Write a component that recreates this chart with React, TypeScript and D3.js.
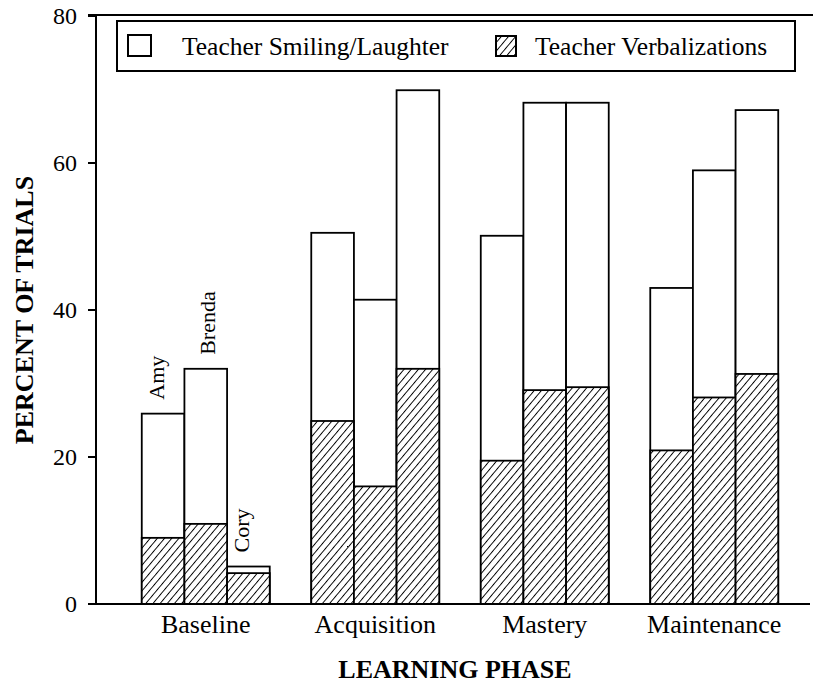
import * as d3 from 'd3'

const phases = ['Baseline', 'Acquisition', 'Mastery', 'Maintenance']
const students = ['Amy', 'Brenda', 'Cory']

// white bars (drawn behind), read per phase, per student
const smiling = [
    [25.9, 32.0, 5.1],
    [50.5, 41.4, 69.9],
    [50.1, 68.2, 68.2],
    [43.0, 59.0, 67.2]
]
// hatched bars (drawn in front)
const verbal = [
    [9.0, 10.9, 4.2],
    [24.9, 16.0, 32.0],
    [19.5, 29.1, 29.5],
    [20.9, 28.1, 31.3]
]
const yTicks = [0, 20, 40, 60, 80]

const W = 813
const H = 687
const font = '"Liberation Serif", "Times New Roman", serif'

export default function App() {
    const y = d3.scaleLinear().domain([0, 80]).range([604, 16])
    const x = d3
        .scaleBand()
        .domain(phases)
        .range([96, 824])
        .paddingInner(0.245)
        .paddingOuter(0.27)
    const xs = d3.scaleBand().domain(students).range([0, x.bandwidth()])

    return (
        <>
            <style>{`body{margin:0}`}</style>
            <svg width={W} height={H} style={{ display: 'block', background: '#fff' }} fontFamily={font}>
                <defs>
                    <pattern id="hatch" width="5.5" height="6" patternUnits="userSpaceOnUse" patternTransform="rotate(40)">
                        <rect width="5.5" height="6" fill="#fff" />
                        <line x1="0" y1="0" x2="0" y2="6" stroke="#000" strokeWidth="1.9" />
                    </pattern>
                </defs>

                {/* bars */}
                {phases.map((p, i) => (
                    <g key={p} transform={`translate(${x(p)},0)`}>
                        {students.map((s, j) => (
                            <rect
                                key={'s' + s}
                                x={xs(s)}
                                y={y(smiling[i][j])}
                                width={xs.bandwidth()}
                                height={y(0) - y(smiling[i][j])}
                                fill="#fff"
                                stroke="#000"
                                strokeWidth="1.8"
                            />
                        ))}
                        {students.map((s, j) => (
                            <rect
                                key={'v' + s}
                                x={xs(s)}
                                y={y(verbal[i][j])}
                                width={xs.bandwidth()}
                                height={y(0) - y(verbal[i][j])}
                                fill="url(#hatch)"
                                stroke="#000"
                                strokeWidth="1.8"
                            />
                        ))}
                        {i === 0 &&
                            students.map((s, j) => {
                                const cx = xs(s) + xs.bandwidth() / 2 + (s === 'Brenda' ? 9 : 1)
                                const cy = y(smiling[i][j]) - 14
                                return (
                                    <text
                                        key={'l' + s}
                                        transform={`translate(${cx},${cy}) rotate(-90)`}
                                        fontSize="22"
                                    >
                                        {s}
                                    </text>
                                )
                            })}
                        <text
                            x={x.bandwidth() / 2}
                            y={633}
                            textAnchor="middle"
                            fontSize="26"
                        >
                            {p}
                        </text>
                    </g>
                ))}

                {/* axes */}
                <line x1={88} x2={813} y1={15} y2={15} stroke="#000" strokeWidth="2" />
                <line x1={88} x2={810} y1={y(0)} y2={y(0)} stroke="#000" strokeWidth="2.2" />
                <line x1={96} x2={96} y1={15} y2={y(0)} stroke="#000" strokeWidth="2" />
                {yTicks.map((t) => (
                    <g key={t}>
                        <line x1={88} x2={96} y1={y(t)} y2={y(t)} stroke="#000" strokeWidth="2" />
                        <text x={77} y={y(t)} dy="0.35em" textAnchor="end" fontSize="24">
                            {t}
                        </text>
                    </g>
                ))}

                {/* legend */}
                <rect x={117} y={21} width={678} height={50} fill="#fff" stroke="#000" strokeWidth="2" />
                <rect x={128} y={35} width={23} height={21} fill="#fff" stroke="#000" strokeWidth="2" />
                <text x={182} y={55} fontSize="25.5">
                    Teacher Smiling/Laughter
                </text>
                <rect x={496} y={36} width={20} height={20} fill="url(#hatch)" stroke="#000" strokeWidth="2" />
                <text x={535} y={55} fontSize="25.5">
                    Teacher Verbalizations
                </text>

                {/* axis titles */}
                <text
                    transform={`translate(33,${(y(0) + y(80)) / 2}) rotate(-90)`}
                    textAnchor="middle"
                    fontSize="26"
                    fontWeight="bold"
                >
                    PERCENT OF TRIALS
                </text>
                <text x={455} y={678} textAnchor="middle" fontSize="26" fontWeight="bold">
                    LEARNING PHASE
                </text>
            </svg>
        </>
    )
}
